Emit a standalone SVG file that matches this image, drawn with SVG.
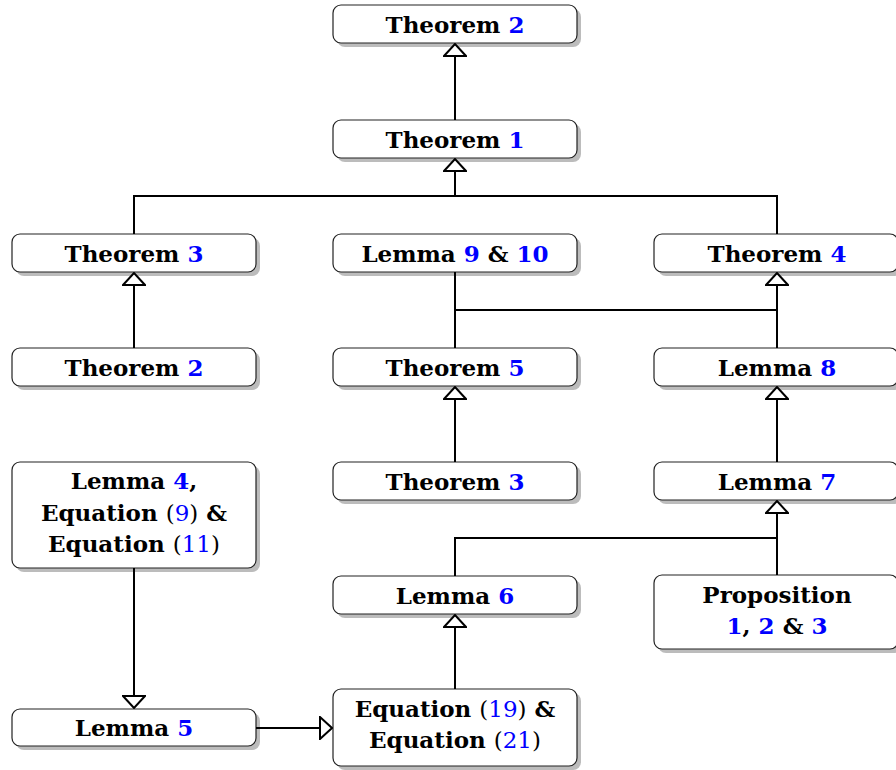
<svg xmlns="http://www.w3.org/2000/svg" width="896" height="770" viewBox="0 0 896 770">
<defs>
<style>
.sh{fill:#bcbcbc}
.bx{fill:#fff;stroke:#222;stroke-width:1.2}
text{font-family:"DejaVu Serif","Liberation Serif",serif;font-weight:bold;font-size:23px;fill:#000;text-anchor:middle}
.b{fill:#0000ff}
.r{font-weight:normal}
.c{fill:none;stroke:#000;stroke-width:2}
</style>
<marker id="ar" markerUnits="userSpaceOnUse" markerWidth="14" markerHeight="24" refX="12" refY="11" orient="auto" viewBox="-1 -1 14 24">
<path d="M0,0 L12,11 L0,22 z" fill="#fff" stroke="#000" stroke-width="2"/>
</marker>
</defs>
<g id="n_thm2top">
<rect class="sh" x="337" y="9" width="244" height="38" rx="8"/>
<rect class="bx" x="333" y="5" width="244" height="38" rx="8"/>
<text x="455" y="33">Theorem <tspan class="b">2</tspan></text>
</g>
<g id="n_thm1">
<rect class="sh" x="337" y="124" width="244" height="38" rx="8"/>
<rect class="bx" x="333" y="120" width="244" height="38" rx="8"/>
<text x="455" y="148">Theorem <tspan class="b">1</tspan></text>
</g>
<g id="n_thm3a">
<rect class="sh" x="16" y="238" width="244" height="38" rx="8"/>
<rect class="bx" x="12" y="234" width="244" height="38" rx="8"/>
<text x="134" y="262">Theorem <tspan class="b">3</tspan></text>
</g>
<g id="n_lem910">
<rect class="sh" x="337" y="238" width="244" height="38" rx="8"/>
<rect class="bx" x="333" y="234" width="244" height="38" rx="8"/>
<text x="455" y="262">Lemma <tspan class="b">9</tspan> &amp; <tspan class="b">10</tspan></text>
</g>
<g id="n_thm4">
<rect class="sh" x="658" y="238" width="244" height="38" rx="8"/>
<rect class="bx" x="654" y="234" width="244" height="38" rx="8"/>
<text x="777" y="262">Theorem <tspan class="b">4</tspan></text>
</g>
<g id="n_thm2b">
<rect class="sh" x="16" y="352" width="244" height="38" rx="8"/>
<rect class="bx" x="12" y="348" width="244" height="38" rx="8"/>
<text x="134" y="376">Theorem <tspan class="b">2</tspan></text>
</g>
<g id="n_thm5">
<rect class="sh" x="337" y="352" width="244" height="38" rx="8"/>
<rect class="bx" x="333" y="348" width="244" height="38" rx="8"/>
<text x="455" y="376">Theorem <tspan class="b">5</tspan></text>
</g>
<g id="n_lem8">
<rect class="sh" x="658" y="352" width="244" height="38" rx="8"/>
<rect class="bx" x="654" y="348" width="244" height="38" rx="8"/>
<text x="777" y="376">Lemma <tspan class="b">8</tspan></text>
</g>
<g id="n_lem4">
<rect class="sh" x="16" y="466" width="244" height="106" rx="8"/>
<rect class="bx" x="12" y="462" width="244" height="106" rx="8"/>
<text x="134" y="489">Lemma <tspan class="b">4</tspan>,</text>
<text x="134" y="521">Equation <tspan class="r">(<tspan class="b">9</tspan>)</tspan> &amp;</text>
<text x="134" y="552">Equation <tspan class="r">(<tspan class="b">11</tspan>)</tspan></text>
</g>
<g id="n_thm3b">
<rect class="sh" x="337" y="466" width="244" height="38" rx="8"/>
<rect class="bx" x="333" y="462" width="244" height="38" rx="8"/>
<text x="455" y="490">Theorem <tspan class="b">3</tspan></text>
</g>
<g id="n_lem7">
<rect class="sh" x="658" y="466" width="244" height="38" rx="8"/>
<rect class="bx" x="654" y="462" width="244" height="38" rx="8"/>
<text x="777" y="490">Lemma <tspan class="b">7</tspan></text>
</g>
<g id="n_lem6">
<rect class="sh" x="337" y="580" width="244" height="38" rx="8"/>
<rect class="bx" x="333" y="576" width="244" height="38" rx="8"/>
<text x="455" y="604">Lemma <tspan class="b">6</tspan></text>
</g>
<g id="n_prop">
<rect class="sh" x="658" y="579" width="244" height="74" rx="8"/>
<rect class="bx" x="654" y="575" width="244" height="74" rx="8"/>
<text x="777" y="603">Proposition</text>
<text x="777" y="634"><tspan class="b">1</tspan>, <tspan class="b">2</tspan> &amp; <tspan class="b">3</tspan></text>
</g>
<g id="n_lem5">
<rect class="sh" x="16" y="713" width="244" height="37" rx="8"/>
<rect class="bx" x="12" y="709" width="244" height="37" rx="8"/>
<text x="134" y="736">Lemma <tspan class="b">5</tspan></text>
</g>
<g id="n_eq">
<rect class="sh" x="337" y="693" width="244" height="77" rx="8"/>
<rect class="bx" x="333" y="689" width="244" height="77" rx="8"/>
<text x="455" y="717">Equation <tspan class="r">(<tspan class="b">19</tspan>)</tspan> &amp;</text>
<text x="455" y="748">Equation <tspan class="r">(<tspan class="b">21</tspan>)</tspan></text>
</g>
<g id="connectors">
<path class="c" d="M455,120 V44" marker-end="url(#ar)"/>
<path class="c" d="M134,234 V196 H777 V234"/>
<path class="c" d="M455,196 V159" marker-end="url(#ar)"/>
<path class="c" d="M134,348 V273" marker-end="url(#ar)"/>
<path class="c" d="M455,272 V348 M455,310 H777"/>
<path class="c" d="M777,348 V273" marker-end="url(#ar)"/>
<path class="c" d="M455,462 V387" marker-end="url(#ar)"/>
<path class="c" d="M777,462 V387" marker-end="url(#ar)"/>
<path class="c" d="M455,576 V538 H777"/>
<path class="c" d="M777,575 V501" marker-end="url(#ar)"/>
<path class="c" d="M134,568 V708" marker-end="url(#ar)"/>
<path class="c" d="M256,728 H332" marker-end="url(#ar)"/>
<path class="c" d="M455,689 V615" marker-end="url(#ar)"/>
</g>
</svg>
